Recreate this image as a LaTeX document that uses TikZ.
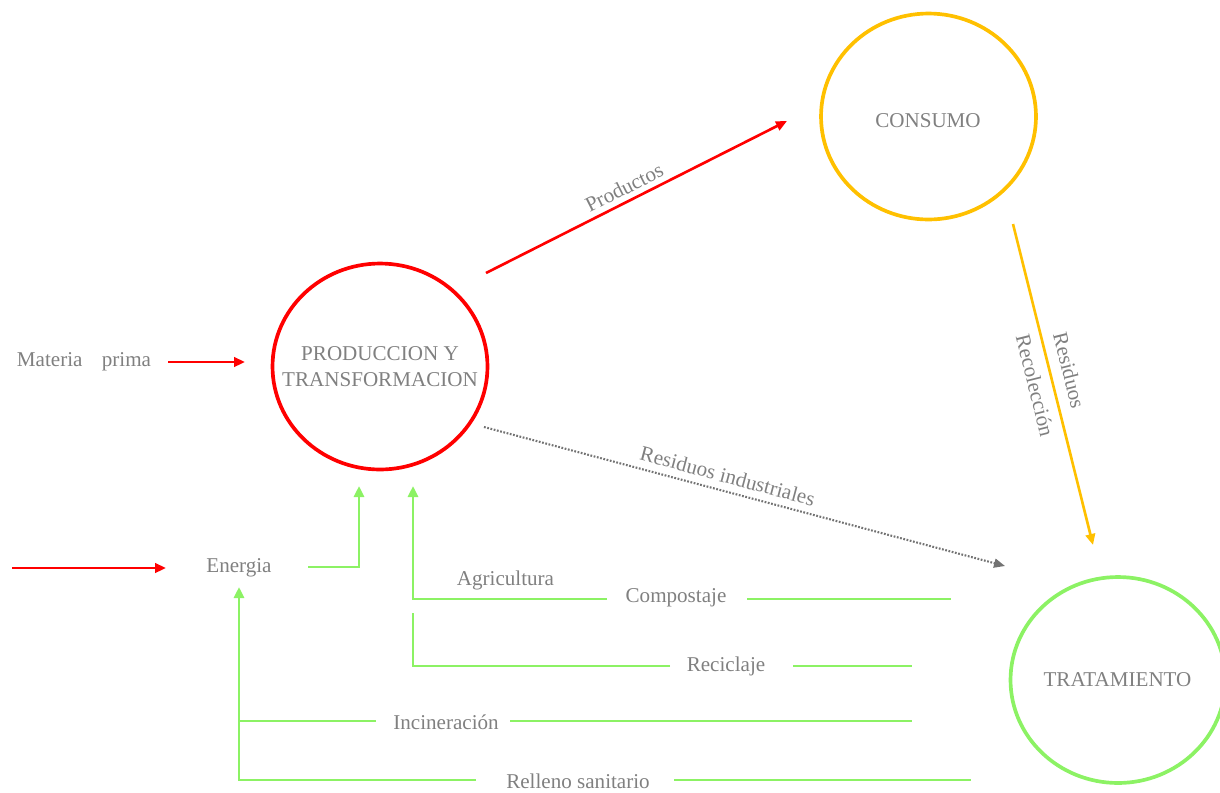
\documentclass[tikz,border=0pt]{standalone}
\usepackage{fontspec}
\setmainfont{Liberation Serif}
\usetikzlibrary{arrows.meta,shapes.geometric}
\definecolor{cred}{RGB}{255,0,0}
\definecolor{corange}{RGB}{255,192,0}
\definecolor{cgreen}{RGB}{140,242,100}
\definecolor{ctext}{RGB}{128,128,128}
\definecolor{cdot}{RGB}{115,115,115}
\begin{document}
\begin{tikzpicture}[x=0.02cm,y=-0.02cm,
  ell/.style={ellipse, minimum width=4.3cm, minimum height=4.12cm, line width=2.1pt, inner sep=0pt},
  txt/.style={text=ctext, font=\fontsize{12}{14.5}\selectfont, inner sep=1pt, align=center},
  redarrow/.style={draw=cred, line width=1.5pt, -{Triangle[length=0.22cm,width=0.19cm]}},
  orangearrow/.style={draw=corange, line width=1.5pt, -{Triangle[length=0.22cm,width=0.19cm]}},
  grayarrow/.style={draw=cdot, line width=1.2pt, dash pattern=on 1pt off 0.9pt, -{Triangle[length=0.22cm,width=0.18cm]}},
  greenarrow/.style={draw=cgreen, line width=1.5pt, -{Triangle[length=0.22cm,width=0.2cm]}},
  greenline/.style={draw=cgreen, line width=1.5pt}
]
\useasboundingbox (0,0) rectangle (1220,792);

% circles
\node[ell, draw=cred] (prod) at (380,366.5) {};
\node[txt] (prodt) at (prod) {PRODUCCION Y\\TRANSFORMACION};
\node[ell, draw=corange] (cons) at (928.5,116.5) {};
\node[txt] (const) at (928,121) {CONSUMO};
\node[ell, draw=cgreen] (trat) at (1118,680) {};
\node[txt] (tratt) at (1117.5,680) {TRATAMIENTO};

% Materia prima
\node[txt] (mat) at (84,362) {Materia\ \ \ \,prima};
\coordinate (m1) at (168,362);
\coordinate (m2) at (245,362);
\draw[redarrow] (m1) -- (m2);

% Productos
\coordinate (p1) at (486,273);
\coordinate (p2) at (787,121);
\draw[redarrow] (p1) -- node[txt, sloped, above=2pt, pos=0.48] (lprod) {Productos} (p2);

% Residuos / Recoleccion
\coordinate (r1) at (1013,224);
\coordinate (r2) at (1093,545);
\draw[orangearrow] (r1) -- node[txt, sloped, above=5pt, pos=0.47] (lres) {Residuos}
  node[txt, sloped, below=4pt, pos=0.49] (lrec) {Recolección} (r2);

% Residuos industriales
\coordinate (i1) at (484,427);
\coordinate (i2) at (1005,566);
\draw[grayarrow] (i1) -- node[txt, sloped, above=3pt, pos=0.46] (lind) {Residuos industriales} (i2);

% Energia
\node[txt] (ener) at (239,568) {Energia};
\coordinate (e0) at (12,568);
\coordinate (e1) at (166,568);
\draw[redarrow] (e0) -- (e1);
\coordinate (e2) at (308,567);
\coordinate (e3) at (359,486);
\draw[greenarrow] (e2) -| (e3);

% Agricultura / Compostaje
\node[txt] (agri) at (505.5,580) {Agricultura};
\node[txt] (comp) at (676,598) {Compostaje};
\coordinate (c1) at (607,599);
\coordinate (c2) at (413,486);
\draw[greenarrow] (c1) -| (c2);
\coordinate (c3) at (747,599);
\coordinate (c4) at (951,599);
\draw[greenline] (c3) -- (c4);

% Reciclaje
\node[txt] (reci) at (726,666) {Reciclaje};
\coordinate (k1) at (670,666);
\coordinate (k2) at (413,613);
\draw[greenline] (k1) -| (k2);
\coordinate (k3) at (793,666);
\coordinate (k4) at (912,666);
\draw[greenline] (k3) -- (k4);

% Incineracion
\node[txt] (inci) at (446,722) {Incineración};
\coordinate (n1) at (376,721);
\coordinate (n2) at (239,721);
\draw[greenline] (n1) -- (n2);
\coordinate (n3) at (510,721);
\coordinate (n4) at (912,721);
\draw[greenline] (n3) -- (n4);

% Relleno sanitario
\node[txt] (rell) at (578,781) {Relleno sanitario};
\coordinate (s1) at (476,780);
\coordinate (s2) at (239,587);
\draw[greenarrow] (s1) -| (s2);
\coordinate (s3) at (674,780);
\coordinate (s4) at (971,780);
\draw[greenline] (s3) -- (s4);
\end{tikzpicture}
\end{document}
